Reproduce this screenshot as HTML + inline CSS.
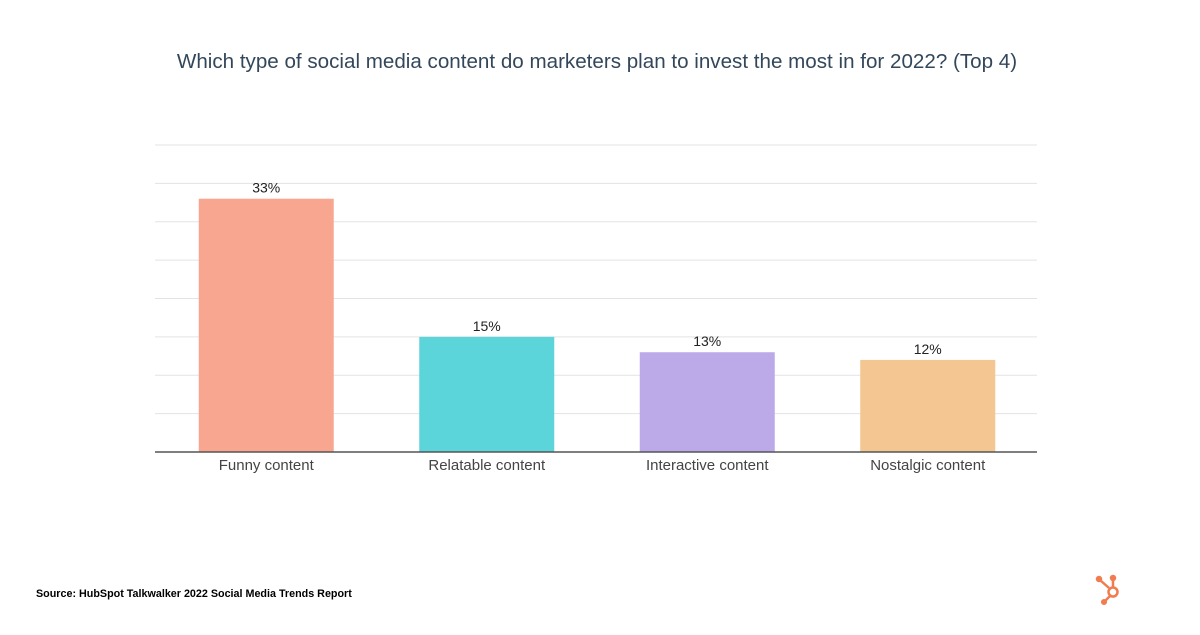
<!DOCTYPE html>
<html><head><meta charset="utf-8"><style>
body{margin:0;width:1200px;height:630px;background:#fff;overflow:hidden;font-family:"Liberation Sans",sans-serif}
</style></head><body>
<svg width="1200" height="630">
<text x="597" y="68" text-anchor="middle" font-size="20.6" fill="#33475b">Which type of social media content do marketers plan to invest the most in for 2022? (Top 4)</text>
<g id="grid"></g>
<g id="bars"></g>
<line x1="155" x2="1037" y1="452" y2="452" stroke="#555" stroke-width="1.5"/>
<text x="36" y="597" font-size="10.75" font-weight="bold" fill="#000">Source: HubSpot Talkwalker 2022 Social Media Trends Report</text>
<g stroke="#f07c4f" fill="none" stroke-width="2.5">
<circle cx="1113" cy="592" r="4.5"/>
<line x1="1109" y1="588" x2="1100" y2="580"/>
<line x1="1113" y1="587" x2="1113" y2="579"/>
<line x1="1110" y1="596" x2="1105" y2="601"/>
<circle cx="1099" cy="579" r="2" fill="#f07c4f"/>
<circle cx="1113" cy="578" r="2" fill="#f07c4f"/>
<circle cx="1104" cy="602" r="1.8" fill="#f07c4f"/>
</g>
</svg>
<script>
const categories=["Funny content","Relatable content","Interactive content","Nostalgic content"];
const values=[33,15,13,12];
const labels=["33%","15%","13%","12%"];
const colors=["#f8a68f","#5bd4da","#bcaae8","#f3c692"];
const ticks=[0,5,10,15,20,25,30,35,40];
const ns="http://www.w3.org/2000/svg";
const y0=452,yMaxPx=145,vMax=40,xL=156,xR=1038;
const y=v=>y0-(y0-yMaxPx)*v/vMax;
const step=(xR-xL)/categories.length,bw=135;
const x=i=>xL+step*i+(step-bw)/2;
const grid=document.getElementById('grid'),bars=document.getElementById('bars');
ticks.forEach(t=>{if(t===0)return;const l=document.createElementNS(ns,'line');
l.setAttribute('x1',155);l.setAttribute('x2',1037);l.setAttribute('y1',y(t));l.setAttribute('y2',y(t));
l.setAttribute('stroke','#e3e3e3');


grid.appendChild(l);});
categories.forEach((c,i)=>{
const r=document.createElementNS(ns,'rect');
r.setAttribute('x',x(i));r.setAttribute('width',bw);r.setAttribute('y',y(values[i]));r.setAttribute('height',y0-y(values[i]));r.setAttribute('fill',colors[i]);


bars.appendChild(r);
const t=document.createElementNS(ns,'text');
t.setAttribute('x',x(i)+bw/2);t.setAttribute('y',y(values[i])-6);t.setAttribute('text-anchor','middle');t.setAttribute('font-size','14');t.setAttribute('fill','#222');t.textContent=labels[i];


bars.appendChild(t);
const a=document.createElementNS(ns,'text');
a.setAttribute('x',x(i)+bw/2);a.setAttribute('y',470);a.setAttribute('text-anchor','middle');a.setAttribute('font-size','15');a.setAttribute('fill','#444');a.textContent=c;


bars.appendChild(a);
});
</script>
</body></html>
